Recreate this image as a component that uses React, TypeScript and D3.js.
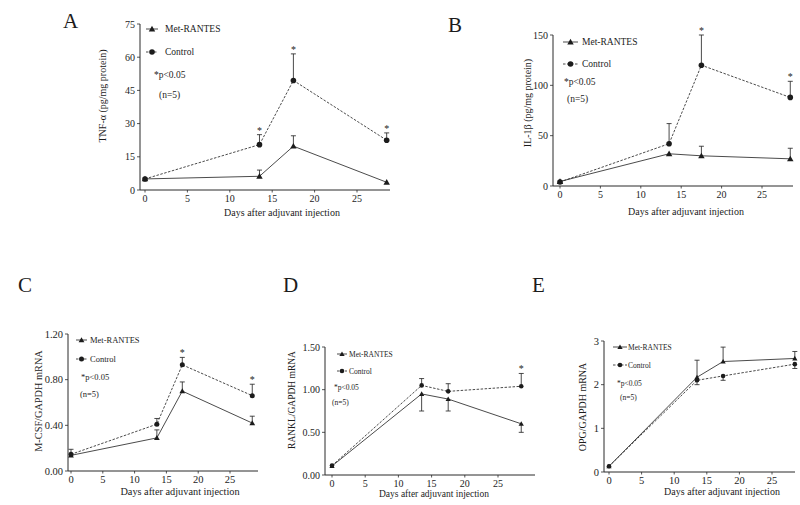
import React from 'react';
import * as d3 from 'd3';

// ---------- data ----------
const days = [0, 13.5, 17.5, 28.5];
const xTicks = [0, 5, 10, 15, 20, 25];

// A: TNF-alpha
const tnfMet = [5, 6.2, 19.8, 3.5];
const tnfMetErrEnd = [null, 9, 24.5, null];
const tnfCtrl = [5, 20.5, 49.5, 22.5];
const tnfCtrlErrEnd = [null, 25, 61.5, 25.8];
const tnfStars = [1, 2, 3];
const tnfTicks = [0, 15, 30, 45, 60, 75];

// B: IL-1beta
const il1Met = [4.5, 32, 30, 27];
const il1MetErrEnd = [null, null, 39.5, 37.5];
const il1Ctrl = [4, 42, 120, 88];
const il1CtrlErrEnd = [null, 62, 150, 104];
const il1Stars = [2, 3];
const il1Ticks = [0, 50, 100, 150];

// C: M-CSF/GAPDH
const mcsfMet = [0.137, 0.29, 0.7, 0.42];
const mcsfMetErrEnd = [null, 0.36, 0.78, 0.48];
const mcsfCtrl = [0.146, 0.41, 0.93, 0.66];
const mcsfCtrlErrEnd = [0.19, 0.46, 0.995, 0.76];
const mcsfStars = [2, 3];
const mcsfTicks = [0, 0.4, 0.8, 1.2];

// D: RANKL/GAPDH
const rankMet = [0.105, 0.95, 0.89, 0.6];
const rankMetErrEnd = [null, 0.75, 0.75, 0.5];
const rankCtrl = [0.11, 1.05, 0.98, 1.04];
const rankCtrlErrEnd = [null, 1.13, 1.07, 1.19];
const rankStars = [3];
const rankTicks = [0, 0.5, 1.0, 1.5];

// E: OPG/GAPDH
const opgMet = [0.13, 2.17, 2.53, 2.6];
const opgMetErrEnd = [null, 2.56, 2.86, 2.76];
const opgCtrl = [0.13, 2.1, 2.2, 2.47];
const opgCtrlErrEnd = [null, 2.0, 2.1, 2.37];
const opgStars: number[] = [];
const opgTicks = [0, 1, 2, 3];

const seriesNames = ['Met-RANTES', 'Control'];
const xLabel = 'Days after adjuvant injection';
const pText = '*p<0.05';
const nText = '(n=5)';

// ---------- layout ----------
const FONT = '"Liberation Serif", "Times New Roman", serif';
const INK = '#1c1c1c';
const LINE = '#2a2a2a';

const panels = [
  {
    letter: 'A', ylabel: 'TNF-α (pg/mg protein)', ticks: tnfTicks, fmt: d3.format('d'), yMax: 75,
    met: tnfMet, metErr: tnfMetErrEnd, ctrl: tnfCtrl, ctrlErr: tnfCtrlErrEnd, stars: tnfStars,
    axisX: 140, x0: 145, x25: 357, axisEnd: 390, yTop: 24, yBottom: 190,
    tickFont: 10, labFont: 10, ylab: [102, 96], dlab: [282, 216], let: [63, 28],
    leg: { x1: 146, x2: 158, tx: 165, y1: 29, y2: 52, px: 154, py: 78, nx: 159, ny: 98, f: 9.5 },
    msz: 2.8,
  },
  {
    letter: 'B', ylabel: 'IL-1β (pg/mg protein)', ticks: il1Ticks, fmt: d3.format('d'), yMax: 150,
    met: il1Met, metErr: il1MetErrEnd, ctrl: il1Ctrl, ctrlErr: il1CtrlErrEnd, stars: il1Stars,
    axisX: 553, x0: 560, x25: 762, axisEnd: 793, yTop: 35, yBottom: 186,
    tickFont: 10, labFont: 10, ylab: [527, 103], dlab: [686, 215], let: [448, 32],
    leg: { x1: 563, x2: 578, tx: 582, y1: 42, y2: 64, px: 564, py: 85, nx: 567, ny: 102, f: 9.5 },
    msz: 2.8,
  },
  {
    letter: 'C', ylabel: 'M-CSF/GAPDH mRNA', ticks: mcsfTicks, fmt: d3.format('.2f'), yMax: 1.2,
    met: mcsfMet, metErr: mcsfMetErrEnd, ctrl: mcsfCtrl, ctrlErr: mcsfCtrlErrEnd, stars: mcsfStars,
    axisX: 68, x0: 71, x25: 230, axisEnd: 258, yTop: 334, yBottom: 471,
    tickFont: 10.5, labFont: 10.3, ylab: [38, 401], dlab: [180, 495], let: [18, 292],
    leg: { x1: 76, x2: 87, tx: 90, y1: 340, y2: 359, px: 81, py: 380, nx: 80, ny: 397, f: 8.5 },
    msz: 2.5,
  },
  {
    letter: 'D', ylabel: 'RANKL/GAPDH mRNA', ticks: rankTicks, fmt: d3.format('.2f'), yMax: 1.5,
    met: rankMet, metErr: rankMetErrEnd, ctrl: rankCtrl, ctrlErr: rankCtrlErrEnd, stars: rankStars,
    axisX: 325, x0: 332, x25: 498, axisEnd: 535, yTop: 347, yBottom: 475,
    tickFont: 10, labFont: 9.5, ylab: [292, 400], dlab: [434, 497], let: [283, 292],
    leg: { x1: 337, x2: 347, tx: 349, y1: 354, y2: 371, px: 334, py: 390, nx: 332, ny: 405, f: 7.5 },
    msz: 2.3,
  },
  {
    letter: 'E', ylabel: 'OPG/GAPDH mRNA', ticks: opgTicks, fmt: d3.format('d'), yMax: 3,
    met: opgMet, metErr: opgMetErrEnd, ctrl: opgCtrl, ctrlErr: opgCtrlErrEnd, stars: opgStars,
    axisX: 604, x0: 609, x25: 772, axisEnd: 795, yTop: 341, yBottom: 472,
    tickFont: 10.5, labFont: 10, ylab: [582, 407], dlab: [722, 495], let: [532, 292],
    leg: { x1: 613, x2: 627, tx: 628, y1: 347, y2: 365, px: 617, py: 386, nx: 620, ny: 400, f: 7.5 },
    msz: 2.3,
  },
];

function Marker({ kind, cx, cy, s }: { kind: string; cx: number; cy: number; s: number }) {
  if (kind === 'tri') {
    const path = d3.symbol(d3.symbolTriangle, s * s * 2.3)();
    return <path d={path || ''} transform={`translate(${cx},${cy + s * 0.2})`} fill={INK} />;
  }
  return <circle cx={cx} cy={cy} r={s} fill={INK} />;
}

function Panel({ p }: { p: any }) {
  const x = d3.scaleLinear().domain([0, 25]).range([p.x0, p.x25]);
  const y = d3.scaleLinear().domain([0, p.yMax]).range([p.yBottom, p.yTop]);
  const line = d3.line<number>().x((_, i) => x(days[i])).y((d) => y(d));
  const capW = 2.5;
  const errBars = (vals: number[], ends: (number | null)[]) =>
    vals.map((v, i) => {
      const e = ends[i];
      if (e == null) return null;
      return (
        <g key={i} stroke={LINE} strokeWidth={0.85}>
          <line x1={x(days[i])} x2={x(days[i])} y1={y(v)} y2={y(e)} />
          <line x1={x(days[i]) - capW} x2={x(days[i]) + capW} y1={y(e)} y2={y(e)} />
        </g>
      );
    });
  const L = p.leg;
  return (
    <g fontFamily={FONT} fill={INK}>
      <text x={p.let[0]} y={p.let[1]} fontSize={21}>{p.letter}</text>
      {/* axes */}
      <line x1={p.axisX} x2={p.axisX} y1={p.yTop} y2={p.yBottom} stroke={LINE} strokeWidth={1} />
      <line x1={p.axisX} x2={p.axisEnd} y1={p.yBottom} y2={p.yBottom} stroke={LINE} strokeWidth={1} />
      {p.ticks.map((t: number) => (
        <g key={'y' + t}>
          <line x1={p.axisX - 3} x2={p.axisX} y1={y(t)} y2={y(t)} stroke={LINE} strokeWidth={0.8} />
          <text x={p.axisX - 5} y={y(t)} dy="0.35em" textAnchor="end" fontSize={p.tickFont}>{p.fmt(t)}</text>
        </g>
      ))}
      {xTicks.map((t) => (
        <g key={'x' + t}>
          <line x1={x(t)} x2={x(t)} y1={p.yBottom} y2={p.yBottom + 2.5} stroke={LINE} strokeWidth={0.8} />
          <text x={x(t)} y={p.yBottom + 12} textAnchor="middle" fontSize={p.tickFont}>{t}</text>
        </g>
      ))}
      <text x={p.dlab[0]} y={p.dlab[1]} textAnchor="middle" fontSize={p.labFont}>{xLabel}</text>
      <text transform={`translate(${p.ylab[0]},${p.ylab[1]}) rotate(-90)`} textAnchor="middle" dy="0.35em" fontSize={p.labFont}>{p.ylabel}</text>
      {/* error bars */}
      {errBars(p.met, p.metErr)}
      {errBars(p.ctrl, p.ctrlErr)}
      {/* lines */}
      <path d={line(p.met) || ''} fill="none" stroke={LINE} strokeWidth={0.85} />
      <path d={line(p.ctrl) || ''} fill="none" stroke={LINE} strokeWidth={0.85} strokeDasharray="2.5,1.5" />
      {p.met.map((v: number, i: number) => <Marker key={'m' + i} kind="tri" cx={x(days[i])} cy={y(v)} s={p.msz} />)}
      {p.ctrl.map((v: number, i: number) => <Marker key={'c' + i} kind="dot" cx={x(days[i])} cy={y(v)} s={p.msz} />)}
      {p.stars.map((i: number) => {
        const top = Math.max(p.ctrl[i], p.ctrlErr[i] ?? p.ctrl[i]);
        return <text key={'s' + i} x={x(days[i])} y={y(top) - 1} textAnchor="middle" fontSize={10}>*</text>;
      })}
      {/* legend */}
      <line x1={L.x1} x2={L.x2} y1={L.y1} y2={L.y1} stroke={LINE} strokeWidth={0.85} />
      <Marker kind="tri" cx={(L.x1 + L.x2) / 2} cy={L.y1} s={p.msz} />
      <text x={L.tx} y={L.y1} dy="0.35em" fontSize={L.f}>{seriesNames[0]}</text>
      <line x1={L.x1} x2={L.x2} y1={L.y2} y2={L.y2} stroke={LINE} strokeWidth={0.85} strokeDasharray="2.5,1.5" />
      <Marker kind="dot" cx={(L.x1 + L.x2) / 2} cy={L.y2} s={p.msz} />
      <text x={L.tx} y={L.y2} dy="0.35em" fontSize={L.f}>{seriesNames[1]}</text>
      <text x={L.px} y={L.py} fontSize={L.f}>{pText}</text>
      <text x={L.nx} y={L.ny} fontSize={L.f}>{nText}</text>
    </g>
  );
}

export default function App() {
  return (
    <svg width={800} height={505} style={{ position: 'absolute', left: 0, top: 0, background: '#fff' }}>
      <rect width={800} height={505} fill="#fff" />
      {panels.map((p) => <Panel key={p.letter} p={p} />)}
    </svg>
  );
}
